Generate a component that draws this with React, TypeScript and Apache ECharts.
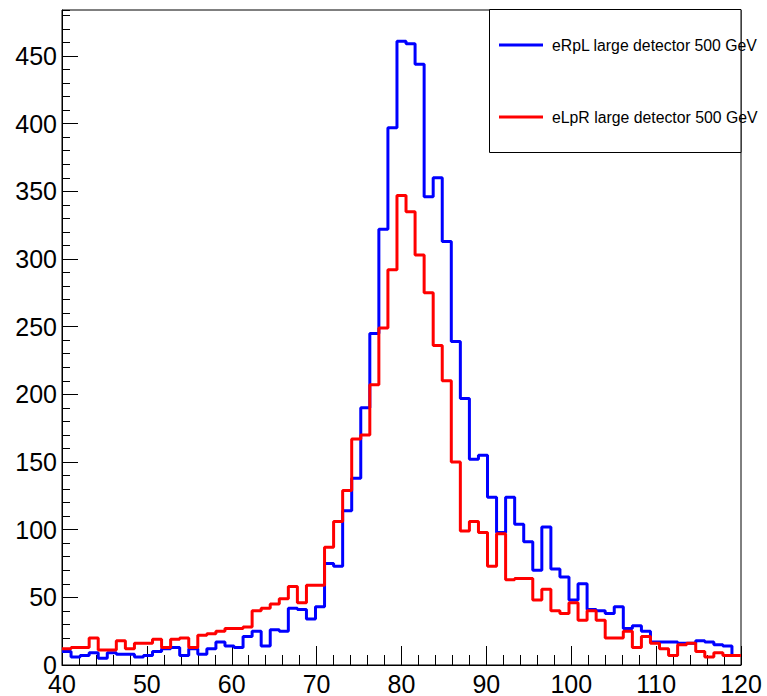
import React, { useEffect, useRef } from "react";
import * as echarts from "echarts";

// Histogram: 75 bins from 40 to 120
const xMin = 40;
const xMax = 120;
const yMax = 484;

const blueLabel = "eRpL large detector 500 GeV";
const redLabel = "eLpR large detector 500 GeV";

const blueValues = [
  10, 6, 7, 9, 5, 9, 8, 8, 6, 7,
  10, 12, 13, 7, 12, 8, 12, 17, 14, 13,
  21, 25, 14, 26, 25, 42, 41, 34, 43, 75,
  73, 114, 138, 190, 245, 322, 397, 461, 459, 444,
  346, 360, 313, 239, 197, 152, 155, 124, 98, 124,
  104, 91, 70, 102, 71, 65, 48, 60, 41, 40,
  38, 43, 27, 29, 25, 17, 17, 17, 16, 16,
  18, 17, 15, 14, 7,
];

const redValues = [
  12, 13, 13, 20, 11, 11, 18, 12, 16, 16,
  19, 13, 19, 20, 13, 22, 23, 25, 27, 27,
  28, 40, 42, 45, 49, 58, 46, 59, 59, 87,
  106, 129, 167, 170, 207, 249, 292, 347, 335, 303,
  275, 236, 210, 150, 99, 106, 98, 73, 97, 63,
  64, 64, 48, 56, 40, 38, 46, 33, 40, 33,
  20, 20, 25, 13, 21, 16, 12, 7, 15, 16,
  10, 6, 9, 7, 7,
];

const xTickLabels = [40, 50, 60, 70, 80, 90, 100, 110, 120];
const yTickLabels = [0, 50, 100, 150, 200, 250, 300, 350, 400, 450];

function toSteps(values: number[]): [number, number][] {
  const n = values.length;
  const w = (xMax - xMin) / n;
  const pts: [number, number][] = values.map((v, i) => [xMin + i * w, v]);
  pts.push([xMax, values[n - 1]]);
  return pts;
}

const FONT = '"Liberation Sans", Arial, Helvetica, sans-serif';

export default function App() {
  const ref = useRef<HTMLDivElement>(null);
  useEffect(() => {
    if (!ref.current) return;
    const chart = echarts.init(ref.current, null, { renderer: "svg" });
    const gridLeft = 62;
    const gridTop = 10;
    const gridRight = 26;
    const gridBottom = 30;
    const xLabelSet = new Set(xTickLabels);
    const yLabelSet = new Set(yTickLabels);
    chart.setOption({
      animation: false,
      backgroundColor: "#ffffff",
      grid: {
        left: gridLeft,
        top: gridTop,
        right: gridRight,
        bottom: gridBottom,
        show: true,
        borderColor: "#000",
        borderWidth: 1,
        backgroundColor: "transparent",
      },
      xAxis: [
        {
          type: "value",
          min: xMin,
          max: xMax,
          interval: 10,
          position: "bottom",
          axisLine: { show: true, lineStyle: { color: "#000", width: 1 } },
          axisTick: { show: true, inside: true, length: 19, lineStyle: { color: "#000", width: 1 } },
          splitLine: { show: false },
          axisLabel: {
            show: true,
            margin: 6,
            color: "#000",
            fontSize: 25,
            fontFamily: FONT,
            formatter: (v: number) => (xLabelSet.has(v) ? String(v) : ""),
            showMinLabel: true,
            showMaxLabel: true,
          },
        },
        {
          type: "value",
          min: xMin,
          max: xMax,
          interval: 2,
          position: "bottom",
          axisLine: { show: false },
          axisTick: { show: true, inside: true, length: 10, lineStyle: { color: "#000", width: 1 } },
          splitLine: { show: false },
          axisLabel: { show: false },
        },
      ],
      yAxis: [
        {
          type: "value",
          min: 0,
          max: yMax,
          interval: 50,
          position: "left",
          axisLine: { show: true, lineStyle: { color: "#000", width: 1 } },
          axisTick: { show: true, inside: true, length: 16, lineStyle: { color: "#000", width: 1 } },
          splitLine: { show: false },
          axisLabel: {
            show: true,
            margin: 5,
            color: "#000",
            fontSize: 25,
            fontFamily: FONT,
            formatter: (v: number) => (yLabelSet.has(v) ? String(v) : ""),
            showMaxLabel: false,
          },
        },
        {
          type: "value",
          min: 0,
          max: yMax,
          interval: 10,
          position: "left",
          axisLine: { show: false },
          axisTick: { show: true, inside: true, length: 8, lineStyle: { color: "#000", width: 1 } },
          splitLine: { show: false },
          axisLabel: { show: false },
        },
      ],
      series: [
        {
          name: blueLabel,
          type: "line",
          step: "end",
          xAxisIndex: 0,
          yAxisIndex: 0,
          data: toSteps(blueValues),
          showSymbol: false,
          symbol: "none",
          lineStyle: { color: "#0000ff", width: 3 },
          clip: true,
          z: 3,
        },
        {
          name: redLabel,
          type: "line",
          step: "end",
          xAxisIndex: 0,
          yAxisIndex: 0,
          data: toSteps(redValues),
          showSymbol: false,
          symbol: "none",
          lineStyle: { color: "#ff0000", width: 3 },
          clip: true,
          z: 4,
        },
      ],
      graphic: [
        {
          type: "rect",
          shape: { x: 489.5, y: 9.5, width: 251.5, height: 143 },
          style: { fill: "#ffffff", stroke: "#000", lineWidth: 1 },
          z: 10,
        },
        {
          type: "line",
          shape: { x1: 499, y1: 45, x2: 543, y2: 45 },
          style: { stroke: "#0000ff", lineWidth: 3 },
          z: 11,
        },
        {
          type: "text",
          x: 552,
          y: 45,
          style: {
            text: blueLabel,
            fill: "#000",
            font: `15.8px ${FONT}`,
            verticalAlign: "middle",
            align: "left",
          },
          z: 11,
        },
        {
          type: "line",
          shape: { x1: 499, y1: 117, x2: 543, y2: 117 },
          style: { stroke: "#ff0000", lineWidth: 3 },
          z: 11,
        },
        {
          type: "text",
          x: 552,
          y: 117,
          style: {
            text: redLabel,
            fill: "#000",
            font: `15.8px ${FONT}`,
            verticalAlign: "middle",
            align: "left",
          },
          z: 11,
        },
      ],
    });
    return () => {
      chart.dispose();
    };
  }, []);
  return (
    <div
      ref={ref}
      style={{ position: "fixed", left: 0, top: 0, width: 767, height: 696, background: "#fff" }}
    />
  );
}
